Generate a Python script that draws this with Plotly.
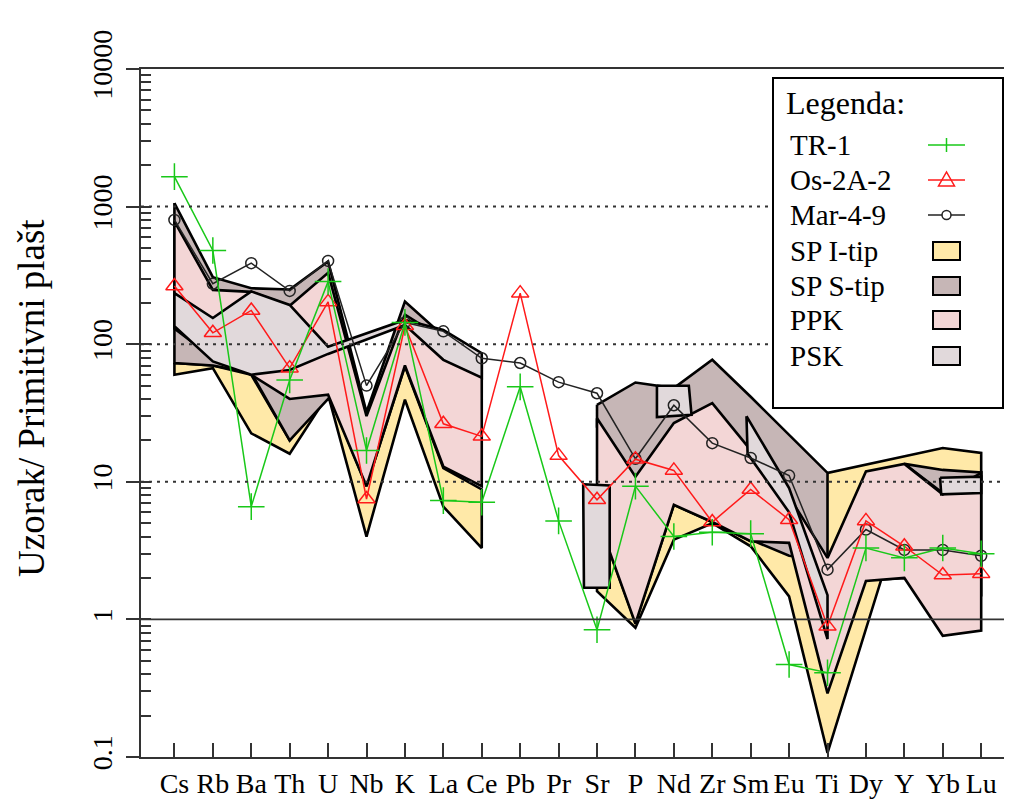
import plotly.graph_objects as go

# elementi (x os)
elements = ["Cs", "Rb", "Ba", "Th", "U", "Nb", "K", "La", "Ce", "Pb", "Pr",
            "Sr", "P", "Nd", "Zr", "Sm", "Eu", "Ti", "Dy", "Y", "Yb", "Lu"]

# uzorci normalizirani na primitivni plast
tr1 = [1650, 480, 6.6, 55, 285, 16.9, 144, 7.3, 7.1, 49, 5.2,
       0.84, 9.3, 4.0, 4.3, 4.2, 0.47, 0.41, 3.3, 2.8, 3.3, 3.0]
os2a2 = [265, 121, 176, 67, 203, 7.5, 136, 26.4, 21.4, 235, 15.5,
         7.4, 14.6, 12.1, 5.1, 8.8, 5.3, 0.89, 5.2, 3.4, 2.1, 2.15]
mar49 = [800, 275, 388, 244, 403, 50, 144, 124, 79, 73, 53,
         44, 14.7, 36, 19.1, 14.9, 11.1, 2.3, 4.5, 3.2, 3.2, 2.9]

# polja (gornja / donja granica), x = indeks elementa
seg1_x = [0, 1, 2, 3, 4, 5, 6, 7, 8]
seg2_x = [11, 12, 13, 14, 15, 16, 17, 18, 19, 20, 21]

spi_up1 = [73, 70, 60, 20, 45, 9.3, 69, 12.6, 8.8]
spi_lo1 = [60, 67, 22.5, 16, 43, 4.0, 39.5, 6.6, 3.3]
spi_up2 = [5.6, 0.95, 6.8, 5.1, 3.7, 3.6, 11.6, 13.3, 15.3, 17.6, 16.2]
spi_lo2_x = [11, 12, 13, 14, 15, 16, 17, 18.4, 19, 20, 21]
spi_lo2 = [1.6, 0.87, 3.8, 5.0, 3.4, 1.47, 0.107, 1.95, 2.0, 1.5, 1.5]

sps_up1 = [1060, 307, 255, 250, 400, 32, 204, 115, 75]
sps_lo1 = [73, 70, 62, 20, 40, 26, 140, 90, 55]
sps2_x = [11, 12, 13, 14, 15, 16, 17]
sps_up2 = [36.3, 52.7, 48, 77, 41.5, 21.9, 11.6]
sps_lo2 = [25, 10, 20, 30, 3.8, 2.9, 2.7]
sps3_x = [19, 20, 21]
sps_up3 = [13.5, 12.2, 11.7]
sps_lo3 = [13.5, 8.3, 10]

ppk_up1 = [780, 248, 240, 190, 330, 30, 164, 110, 75]
ppk_lo1 = [130, 80, 60, 40, 43, 9.3, 70, 12.9, 9.3]
ppk_up2 = [29, 10.9, 26.7, 37.3, 17, 7.8, 2.8, 11.9, 13.5, 8.1, 11.6]
ppk_lo2 = [5.6, 0.93, 6.8, 5.1, 3.7, 3.6, 0.29, 1.9, 2.0, 0.76, 0.83]

psk1_x = [0, 1, 2, 3, 4, 6, 7, 8]
psk_up1 = [235, 155, 242, 193, 96, 150, 127, 86]
psk_lo1 = [135, 75, 60, 65, 85, 138, 77, 57]
psk_sr_x = [10.64, 11.33, 11.33, 10.66]
psk_sr_y = [9.6, 9.4, 1.7, 1.7]
psk_nd_x = [12.56, 13.39, 13.46, 12.56]
psk_nd_y = [49.9, 49.9, 30.7, 29.5]
psk_eu_x = [14.89, 16, 17, 17, 16, 14.92]
psk_eu_y = [30, 9.0, 1.5, 0.72, 6.0, 16]
psk_yb_x = [19.93, 21.0, 21.0, 19.96]
psk_yb_y = [10.7, 10.9, 8.3, 8.1]

c_spi = "#FFE9A8"
c_sps = "#C6B6B6"
c_ppk = "#F3D6D6"
c_psk = "#E1D9DB"
FONT = "Liberation Serif, Times New Roman, serif"

fig = go.Figure()


def polje(xu, yu, xl, yl, color):
    xs = list(xu) + list(xl)[::-1] + [xu[0]]
    ys = list(yu) + list(yl)[::-1] + [yu[0]]
    fig.add_trace(go.Scatter(x=xs, y=ys, mode="lines", fill="toself",
                             fillcolor=color, line=dict(color="black", width=2.6),
                             showlegend=False, hoverinfo="skip"))


def poligon(xs, ys, color):
    fig.add_trace(go.Scatter(x=list(xs) + [xs[0]], y=list(ys) + [ys[0]], mode="lines",
                             fill="toself", fillcolor=color,
                             line=dict(color="black", width=2.6),
                             showlegend=False, hoverinfo="skip"))


polje(seg1_x, spi_up1, seg1_x, spi_lo1, c_spi)
polje(seg2_x, spi_up2, spi_lo2_x, spi_lo2, c_spi)
polje(seg1_x, sps_up1, seg1_x, sps_lo1, c_sps)
polje(sps2_x, sps_up2, sps2_x, sps_lo2, c_sps)
polje(sps3_x, sps_up3, sps3_x, sps_lo3, c_sps)
polje(seg1_x, ppk_up1, seg1_x, ppk_lo1, c_ppk)
polje(seg2_x, ppk_up2, seg2_x, ppk_lo2, c_ppk)
polje(psk1_x, psk_up1, psk1_x, psk_lo1, c_psk)
poligon(psk_sr_x, psk_sr_y, c_psk)
poligon(psk_nd_x, psk_nd_y, c_psk)
poligon(psk_eu_x, psk_eu_y, c_psk)
poligon(psk_yb_x, psk_yb_y, c_psk)

xi = list(range(len(elements)))
fig.add_trace(go.Scatter(x=xi, y=mar49, mode="lines+markers", name="Mar-4-9",
                         line=dict(color="#222222", width=1.5),
                         marker=dict(symbol="circle-open", size=11, color="#222222",
                                     line=dict(width=1.5))))
fig.add_trace(go.Scatter(x=xi, y=os2a2, mode="lines+markers", name="Os-2A-2",
                         line=dict(color="#FF1A1A", width=1.5),
                         marker=dict(symbol="triangle-up-open", size=15, color="#FF1A1A",
                                     line=dict(width=1.5))))
fig.add_trace(go.Scatter(x=xi, y=tr1, mode="lines+markers", name="TR-1",
                         line=dict(color="#19C819", width=1.5),
                         marker=dict(symbol="cross-thin-open", size=19, color="#19C819",
                                     line=dict(width=1.5))))
# pomocna os za unutarnje glavne crtice
fig.add_trace(go.Scatter(x=[None], y=[None], yaxis="y2", showlegend=False, hoverinfo="skip"))

# pikseli stranice -> papir (stranica ima 8px marginu oko grafa)
X0, X1, Y0, Y1 = 141, 1010, 69, 757


def px(x):
    return (x - X0) / (X1 - X0)


def py(y):
    return (Y1 - y) / (Y1 - Y0)


shapes = []
for v, d in [(10, "dot"), (100, "dot"), (1000, "dot"), (1, "solid")]:
    shapes.append(dict(type="line", xref="paper", yref="y", x0=0, x1=1, y0=v, y1=v,
                       line=dict(color="#333333", width=2 if d == "dot" else 1.8,
                                 dash="3px,5px" if d == "dot" else "solid"),
                       layer="above"))

# legenda
shapes.append(dict(type="rect", xref="paper", yref="paper", x0=px(773), x1=px(1003),
                   y0=py(408), y1=py(78), fillcolor="white",
                   line=dict(color="black", width=2), layer="above"))
annotations = [dict(text="Legenda:", x=px(784), y=py(103), xref="paper", yref="paper",
                    xanchor="left", yanchor="middle", showarrow=False,
                    font=dict(family=FONT, size=32, color="black"))]
names = ["TR-1", "Os-2A-2", "Mar-4-9", "SP I-tip", "SP S-tip", "PPK", "PSK"]
rows = [145, 180, 215, 251, 286, 320, 356]
for nm, yy in zip(names, rows):
    annotations.append(dict(text=nm, x=px(788), y=py(yy), xref="paper", yref="paper",
                            xanchor="left", yanchor="middle", showarrow=False,
                            font=dict(family=FONT, size=29, color="black")))

mx = 946.5
line_cols = ["#19C819", "#FF1A1A", "#222222"]
for col, yy in zip(line_cols, rows[:3]):
    shapes.append(dict(type="line", xref="paper", yref="paper", x0=px(928), x1=px(965),
                       y0=py(yy), y1=py(yy), line=dict(color=col, width=1.5), layer="above"))
# plus
shapes.append(dict(type="line", xref="paper", yref="paper", x0=px(mx), x1=px(mx),
                   y0=py(rows[0] - 7), y1=py(rows[0] + 7),
                   line=dict(color=line_cols[0], width=1.5), layer="above"))
# trokut
ty = rows[1]
tri = "M {} {} L {} {} L {} {} Z".format(px(mx - 8), py(ty + 6), px(mx + 8), py(ty + 6),
                                           px(mx), py(ty - 8))
shapes.append(dict(type="path", xref="paper", yref="paper", path=tri,
                   fillcolor="rgba(0,0,0,0)", line=dict(color=line_cols[1], width=1.5),
                   layer="above"))
# krug
cy = rows[2]
shapes.append(dict(type="circle", xref="paper", yref="paper", x0=px(mx - 4.5), x1=px(mx + 4.5),
                   y0=py(cy + 4.5), y1=py(cy - 4.5), fillcolor="white",
                   line=dict(color=line_cols[2], width=1.5), layer="above"))
for col, yy in zip([c_spi, c_sps, c_ppk, c_psk], rows[3:]):
    shapes.append(dict(type="rect", xref="paper", yref="paper", x0=px(933), x1=px(960),
                       y0=py(yy + 9), y1=py(yy - 9), fillcolor=col,
                       line=dict(color="black", width=2), layer="above"))

annotations.append(dict(text="Uzorak/ Primitivni plašt", x=px(31), y=py(398),
                        xref="paper", yref="paper", textangle=-90, showarrow=False,
                        xanchor="center", yanchor="middle",
                        font=dict(family=FONT, size=37, color="black")))

major = [0.1, 1, 10, 100, 1000, 10000]
minor = [m * 10 ** e for e in range(-1, 4) for m in range(2, 10)]

fig.update_layout(
    width=1004, height=795,
    margin=dict(l=133, r=2, t=61, b=46),
    paper_bgcolor="white", plot_bgcolor="white",
    showlegend=False,
    shapes=shapes, annotations=annotations,
    font=dict(family=FONT, color="black"),
    xaxis=dict(range=[-0.87, 21.75], tickmode="array", tickvals=xi, ticktext=elements,
               ticks="inside", ticklen=14, tickwidth=2, tickcolor="#333333",
               showgrid=False, zeroline=False, showline=True, linewidth=2,
               linecolor="#333333", mirror=True, automargin=False,
               tickfont=dict(family=FONT, size=28, color="black")),
    yaxis=dict(type="log", range=[-1, 4], tickmode="array", tickvals=major,
               ticktext=["0.1", "1", "10", "100", "1000", "10000"],
               ticks="outside", ticklen=13, tickwidth=2, tickcolor="#333333",
               tickangle=-90, ticklabelstandoff=3, automargin=False,
               minor=dict(tickmode="array", tickvals=minor, ticks="inside",
                          ticklen=10, tickwidth=2, tickcolor="#333333", showgrid=False),
               showgrid=False, zeroline=False, showline=True, linewidth=2,
               linecolor="#333333", mirror=True,
               tickfont=dict(family=FONT, size=28, color="black")),
    yaxis2=dict(type="log", range=[-1, 4], overlaying="y", side="left", anchor="x",
                tickmode="array", tickvals=major, ticks="inside", ticklen=10,
                tickwidth=2, tickcolor="#333333", showticklabels=False,
                showgrid=False, zeroline=False, showline=False, automargin=False),
)

fig.write_html("out.html")
